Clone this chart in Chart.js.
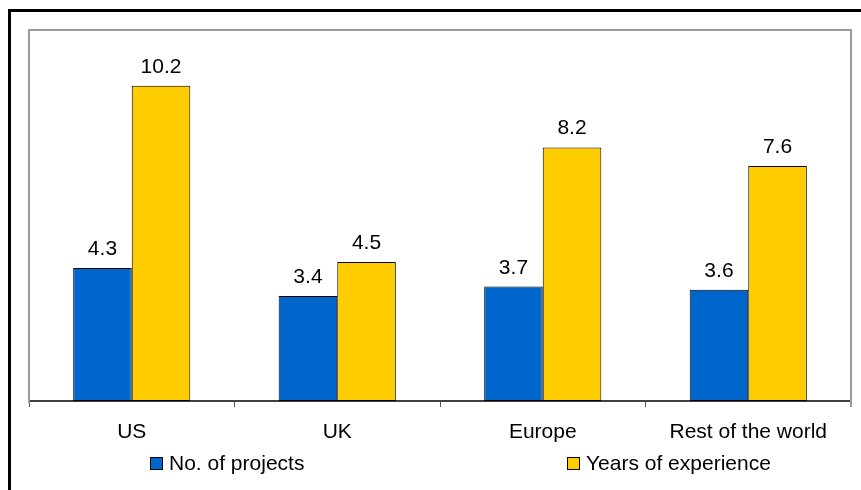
<!DOCTYPE html>
<html>
<head>
<meta charset="utf-8">
<script src="https://cdn.jsdelivr.net/npm/chart.js@4"></script>
<style>
  html, body { margin: 0; padding: 0; background: #fff; }
  #wrap { width: 861px; height: 490px; }
</style>
</head>
<body>
<div id="wrap"><canvas id="regions" width="861" height="490"></canvas></div>
<script>
let regions = ['US', 'UK', 'Europe', 'Rest of the world'];
let projets = [4.3, 3.4, 3.7, 3.6];
let experience = [10.2, 4.5, 8.2, 7.6];
let noms = ['No. of projects', 'Years of experience'];

const police = "'Liberation Sans', Arial, sans-serif";

// cadres, etiquettes de valeur et legende dessines a la main
const habillage = {
    id: 'habillage',
    afterDraw(chart) {
        const c = chart.ctx;
        const a = chart.chartArea;
        c.save();
        // cadre noir exterieur (coupe a droite et en bas)
        c.strokeStyle = '#000';
        c.lineWidth = 3;
        c.beginPath();
        c.moveTo(9.5, chart.height + 5);
        c.lineTo(9.5, 10.5);
        c.lineTo(chart.width + 5, 10.5);
        c.stroke();
        // cadre gris de la zone de trace
        c.strokeStyle = '#999';
        c.lineWidth = 2;
        c.beginPath();
        c.moveTo(a.left, a.bottom + 2);
        c.lineTo(a.left, a.top);
        c.lineTo(a.right, a.top);
        c.lineTo(a.right, a.bottom + 6);
        c.stroke();

        // valeurs au dessus des barres
        c.fillStyle = '#000';
        c.font = '21px ' + police;
        c.textAlign = 'center';
        c.textBaseline = 'alphabetic';
        chart.data.datasets.forEach((ds, i) => {
            chart.getDatasetMeta(i).data.forEach((bar, j) => {
                c.fillText(ds.data[j].toFixed(1), bar.x, bar.y - 13);
            });
        });

        // legende
        const posX = [150, 567];
        c.textAlign = 'left';
        c.textBaseline = 'middle';
        chart.data.datasets.forEach((ds, i) => {
            c.fillStyle = ds.backgroundColor;
            c.fillRect(posX[i] + 0.5, 457.5, 12, 12);
            c.strokeStyle = '#000';
            c.lineWidth = 1;
            c.strokeRect(posX[i] + 0.5, 457.5, 12, 12);
            c.fillStyle = '#000';
            c.fillText(ds.label, posX[i] + 19, 464);
        });
        c.restore();
    }
};

let ctx = document.getElementById('regions').getContext('2d');
new Chart(ctx, {
    type: 'bar',
    data: {
        labels: regions,
        datasets: [{
            label: noms[0],
            data: projets,
            backgroundColor: '#0066CC',
            borderColor: '#000',
            borderWidth: 1,
            borderSkipped: false
        }, {
            label: noms[1],
            data: experience,
            backgroundColor: '#FFCC00',
            borderColor: '#000',
            borderWidth: 1,
            borderSkipped: false
        }]
    },
    options: {
        responsive: false,
        animation: false,
        devicePixelRatio: 1,
        layout: { padding: { left: 29, right: 10, top: 30, bottom: 0 } },
        categoryPercentage: 0.57,
        barPercentage: 1,
        scales: {
            x: {
                grid: {
                    offset: true,
                    drawOnChartArea: false,
                    tickLength: 6,
                    color: '#555',
                    lineWidth: 1
                },
                border: { color: '#404040', width: 2 },
                ticks: {
                    color: '#000',
                    font: { family: police, size: 21 },
                    padding: 13
                },
                afterFit: scale => { scale.height = 89; }
            },
            y: {
                display: false,
                min: 0,
                max: 12
            }
        },
        plugins: {
            legend: { display: false },
            tooltip: { enabled: false }
        }
    },
    plugins: [habillage]
});
</script>
</body>
</html>
